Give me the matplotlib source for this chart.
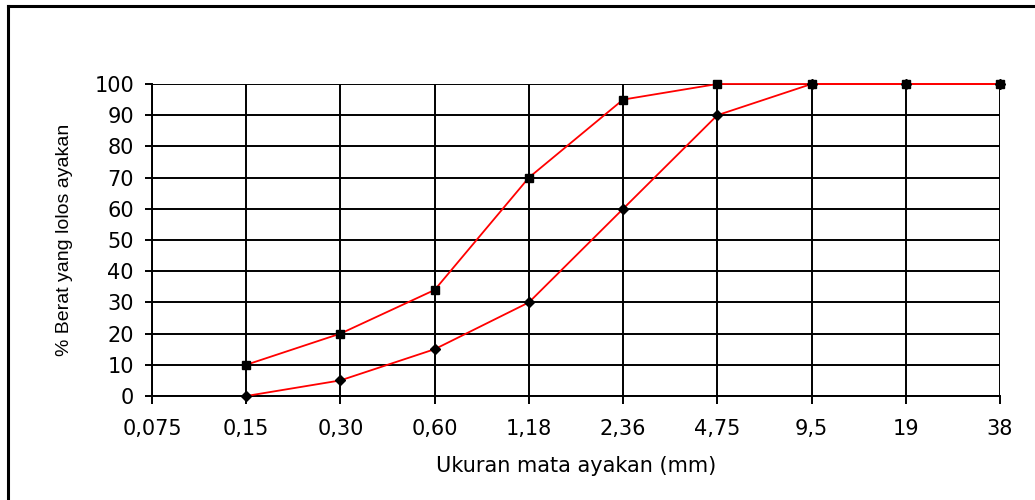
import matplotlib
matplotlib.use("Agg")
import matplotlib.pyplot as plt
from matplotlib.lines import Line2D

sizes = ["0,075", "0,15", "0,30", "0,60", "1,18", "2,36", "4,75", "9,5", "19", "38"]
upper_limit = [None, 10, 20, 34, 70, 95, 100, 100, 100, 100]
lower_limit = [None, 0, 5, 15, 30, 60, 90, 100, 100, 100]
yticks = list(range(0, 101, 10))

plt.rcParams['font.family'] = ['DejaVu Sans']

fig = plt.figure(figsize=(10.35, 5.0), dpi=100)
ax = fig.add_axes([152/1035, 104/500, 848/1035, 312/500])

xs = list(range(len(sizes)))
xu = [x for x, v in zip(xs, upper_limit) if v is not None]
yu = [v for v in upper_limit if v is not None]
xl = [x for x, v in zip(xs, lower_limit) if v is not None]
yl = [v for v in lower_limit if v is not None]

ax.plot(xu, yu, color='#ff0000', lw=1.3, marker='s', ms=6, mfc='black', mec='black', zorder=4, clip_on=False)
ax.plot(xl, yl, color='#ff0000', lw=1.3, marker='D', ms=5.5, mfc='black', mec='black', zorder=4, clip_on=False)

ax.set_xlim(0, len(sizes) - 1)
ax.set_ylim(0, 100)
ax.set_xticks(xs)
ax.set_xticklabels(sizes, fontsize=15)
ax.set_yticks(yticks)
ax.set_yticklabels([str(t) for t in yticks], fontsize=15)
ax.grid(True, color='black', lw=1.4)
ax.set_axisbelow(True)
for s in ['top', 'right']:
    ax.spines[s].set_visible(False)
for s in ['left', 'bottom']:
    ax.spines[s].set_linewidth(1.4)
ax.tick_params(axis='y', direction='out', length=5, width=1.4, pad=8)
ax.tick_params(axis='x', direction='out', length=5.5, width=1.4, pad=11)

ax.set_xlabel("Ukuran mata ayakan (mm)", fontsize=15, labelpad=12)
ax.set_ylabel("% Berat yang lolos ayakan", fontsize=14, labelpad=15,
              family=['Liberation Sans', 'DejaVu Sans'])

fig.lines.append(Line2D([8/1035, 1.01], [1 - 6/500, 1 - 6/500], transform=fig.transFigure,
                        color='black', lw=2.2, solid_capstyle='projecting'))
fig.lines.append(Line2D([8/1035, 8/1035], [1 - 6/500, -0.01], transform=fig.transFigure,
                        color='black', lw=2.2, solid_capstyle='projecting'))

fig.savefig("out.png", dpi=100)
